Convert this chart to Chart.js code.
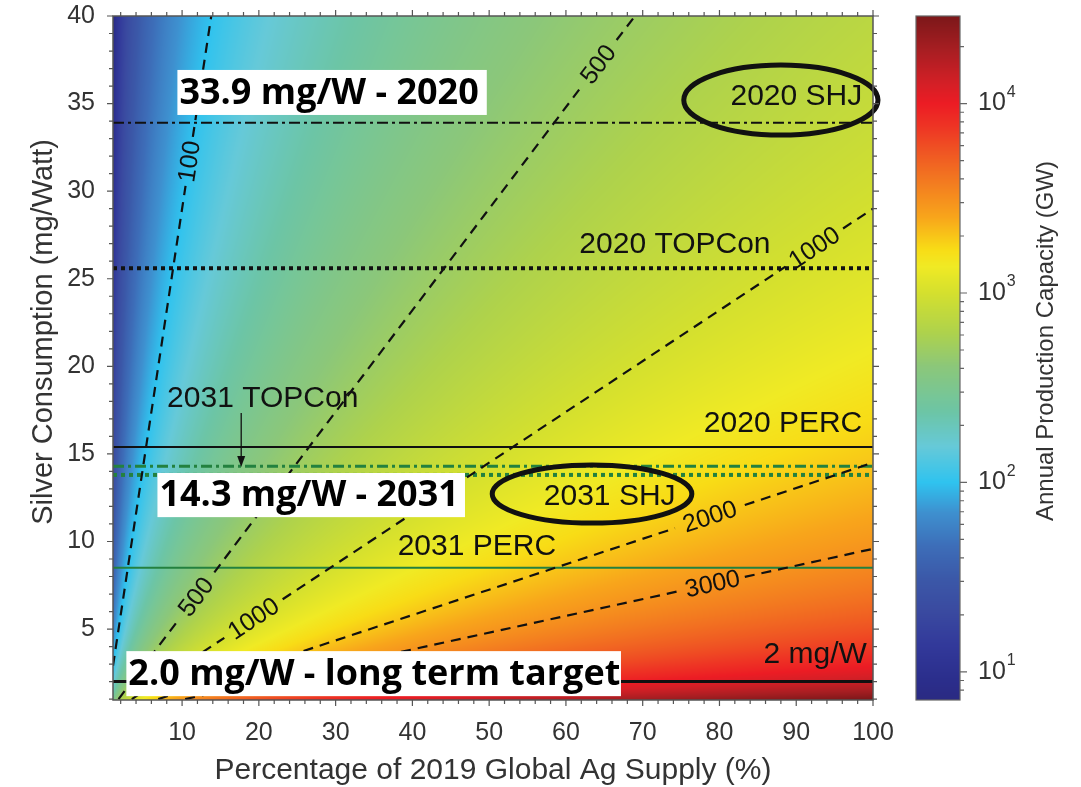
<!DOCTYPE html>
<html>
<head>
<meta charset="utf-8">
<script src="https://cdn.jsdelivr.net/npm/chart.js@4.4.1/dist/chart.umd.min.js"></script>
<style>
  html, body { margin: 0; padding: 0; background: #fff; }
</style>
</head>
<body>
<canvas id="silverChart" width="1081" height="787"></canvas>
<script>
// axis ticks
const pctTicks = [10, 20, 30, 40, 50, 60, 70, 80, 90, 100];
const silverTicks = [5, 10, 15, 20, 25, 30, 35, 40];
const capacityTicks = [10, 100, 1000, 10000];
const capacityRange = [7.1, 29000];

// GW per % of 2019 Ag supply at 1 mg/W
const contourK = 289;

// technologies and their silver use (mg/W)
const techNames = ['2020 SHJ', '2020 TOPCon', '2020 PERC', '2031 TOPCon', '2031 SHJ', '2031 PERC', '2 mg/W'];
const techSilver = [33.9, 25.6, 15.4, 14.3, 13.8, 8.5, 2.0];

// contour lines (GW), each as pieces of [pct, mg/W] broken where the label sits
const contourLevels = [100, 500, 1000, 2000, 3000];
const contourPieces = [
    [[[1, 2.9], [10.45, 30.3]], [[11.4, 33.1], [13.8, 40]]],
    [[[1.72, 1], [9.4, 5.45]], [[14.2, 8.24], [61.8, 35.84]], [[66.6, 38.63], [69, 40]]],
    [[[3.45, 1], [15.5, 4.5]], [[23.1, 6.7], [88.6, 25.69]], [[96.1, 27.87], [100, 29]]],
    [[[6.9, 1], [74.2, 10.76]], [[83.3, 12.08], [100, 14.5]]],
    [[[10.4, 1], [74.9, 7.18]], [[83.3, 7.98], [100, 9.58]]]
];

// ---- styling / annotation placement ----
const techStyles = [
    { color: '#111', width: 2, dash: [11, 4, 3, 4] },
    { color: '#111', width: 4, dash: [4, 4] },
    { color: '#111', width: 2, dash: [] },
    { color: '#23813f', width: 3, dash: [11, 4, 3, 4] },
    { color: '#23813f', width: 4, dash: [4, 4] },
    { color: '#23813f', width: 2, dash: [] },
    { color: '#111', width: 3, dash: [] }
];
const techLabels = [
    { text: '2020 SHJ', x: 98.6, y: 35.38, align: 'right' },
    { text: '2020 TOPCon', x: 74.2, y: 26.92, align: 'center' },
    { text: '2020 PERC', x: 98.6, y: 16.7, align: 'right' },
    { text: '2031 TOPCon', x: 20.5, y: 18.13, align: 'center' },
    { text: '2031 SHJ', x: 65.7, y: 12.54, align: 'center' },
    { text: '2031 PERC', x: 48.4, y: 9.68, align: 'center' },
    { text: '2 mg/W', x: 99.2, y: 3.52, align: 'right' }
];
const contourLabels = [
    { level: 0, x: 10.93, y: 31.7 },
    { level: 1, x: 64.2, y: 37.24 },
    { level: 1, x: 11.8, y: 6.84 },
    { level: 2, x: 92.35, y: 26.78 },
    { level: 2, x: 19.3, y: 5.6 },
    { level: 3, x: 78.75, y: 11.42 },
    { level: 4, x: 79.1, y: 7.58 }
];
const ellipses = [
    { x: 88.0, y: 35.2, rx: 12.65, ry: 2.0 },
    { x: 63.4, y: 12.71, rx: 13.0, ry: 1.66 }
];
const callouts = [
    { text: '33.9 mg/W - 2020', box: [9.39, 36.92, 49.69, 34.35] },
    { text: '14.3 mg/W - 2031', box: [6.79, 13.91, 46.85, 11.39] },
    { text: '2.0 mg/W - long term target', box: [2.74, 3.74, 67.17, 1.17] }
];

const cmapStops = [
    [0.85, '#2a2a82'], [0.96, '#2b2e8c'], [1.14, '#32399a'], [1.32, '#3a4aa0'],
    [1.49, '#3b58a8'], [1.66, '#3d6db8'], [1.84, '#3e90cf'], [2.0, '#2fc3ef'],
    [2.19, '#66c9d8'], [2.37, '#6cc5a6'], [2.61, '#8bc77a'], [2.79, '#aed24c'],
    [3.0, '#d4e02e'], [3.14, '#f0ea24'], [3.23, '#f8dc16'], [3.4, '#f8a51b'],
    [3.58, '#f37c20'], [3.75, '#ef5423'], [3.88, '#ee3424'], [4.0, '#ec1c24'],
    [4.1, '#d51f26'], [4.28, '#a81e22'], [4.47, '#7a1719']
];

const TXT = '#333';
const SANS = "'Liberation Sans', Arial, sans-serif";

function hexRgb(h) {
    return [parseInt(h.substr(1, 2), 16), parseInt(h.substr(3, 2), 16), parseInt(h.substr(5, 2), 16)];
}
const stopRgb = cmapStops.map(s => [s[0], hexRgb(s[1])]);
function cmap(lv) {
    if (lv <= stopRgb[0][0]) return stopRgb[0][1];
    for (let i = 1; i < stopRgb.length; i++) {
        if (lv <= stopRgb[i][0]) {
            const a = stopRgb[i - 1], b = stopRgb[i];
            const t = (lv - a[0]) / (b[0] - a[0]);
            return [0, 1, 2].map(k => a[1][k] + (b[1][k] - a[1][k]) * t);
        }
    }
    return stopRgb[stopRgb.length - 1][1];
}

// colour field behind the lines
const heatmap = {
    id: 'heatmap',
    beforeDatasetsDraw(chart) {
        const { ctx, chartArea: a, scales: { x, y } } = chart;
        const w = Math.round(a.right - a.left), h = Math.round(a.bottom - a.top);
        const off = document.createElement('canvas');
        off.width = w; off.height = h;
        const octx = off.getContext('2d');
        const img = octx.createImageData(w, h);
        for (let j = 0; j < h; j++) {
            const s = y.getValueForPixel(a.top + j + 0.5);
            for (let i = 0; i < w; i++) {
                const p = x.getValueForPixel(a.left + i + 0.5);
                const c = cmap(Math.log10(contourK * p / s));
                const o = (j * w + i) * 4;
                img.data[o] = c[0]; img.data[o + 1] = c[1]; img.data[o + 2] = c[2]; img.data[o + 3] = 255;
            }
        }
        octx.putImageData(img, 0, 0);
        ctx.drawImage(off, a.left, a.top);
    }
};

// labels, ellipses, callout boxes, frame and colour bar
const overlay = {
    id: 'overlay',
    afterDatasetsDraw(chart) {
        const { ctx, chartArea: a, scales: { x, y, cb } } = chart;
        ctx.save();

        // contour labels
        ctx.font = '25px ' + SANS;
        ctx.fillStyle = '#111';
        ctx.textAlign = 'center';
        ctx.textBaseline = 'middle';
        contourLabels.forEach(l => {
            const pcs = contourPieces[l.level];
            const p0 = pcs[0][0], p1 = pcs[pcs.length - 1][1];
            const ang = Math.atan2(y.getPixelForValue(p1[1]) - y.getPixelForValue(p0[1]),
                                   x.getPixelForValue(p1[0]) - x.getPixelForValue(p0[0]));
            ctx.save();
            ctx.translate(x.getPixelForValue(l.x), y.getPixelForValue(l.y));
            ctx.rotate(ang);
            ctx.fillText(String(contourLevels[l.level]), 0, 1);
            ctx.restore();
        });

        // technology labels
        ctx.font = '30px ' + SANS;
        techLabels.forEach(l => {
            ctx.textAlign = l.align;
            ctx.fillText(l.text, x.getPixelForValue(l.x), y.getPixelForValue(l.y));
        });

        // arrow to the 2031 TOPCon line
        const ax = x.getPixelForValue(17.7), ay0 = y.getPixelForValue(17.33), ay1 = y.getPixelForValue(14.25);
        ctx.strokeStyle = '#111';
        ctx.lineWidth = 1.3;
        ctx.beginPath(); ctx.moveTo(ax, ay0); ctx.lineTo(ax, ay1 - 8); ctx.stroke();
        ctx.beginPath(); ctx.moveTo(ax, ay1); ctx.lineTo(ax - 4, ay1 - 11); ctx.lineTo(ax + 4, ay1 - 11); ctx.closePath(); ctx.fill();

        // ellipses
        ctx.lineWidth = 5;
        ellipses.forEach(e => {
            const cx = x.getPixelForValue(e.x), cy = y.getPixelForValue(e.y);
            const rx = x.getPixelForValue(e.x + e.rx) - cx, ry = cy - y.getPixelForValue(e.y + e.ry);
            ctx.beginPath(); ctx.ellipse(cx, cy, rx, ry, 0, 0, Math.PI * 2); ctx.stroke();
        });

        // white callout boxes
        ctx.font = "bold 36px 'Open Sans', 'Noto Sans', sans-serif";
        ctx.textAlign = 'left';
        callouts.forEach(c => {
            const l = x.getPixelForValue(c.box[0]), t = y.getPixelForValue(c.box[1]);
            const r = x.getPixelForValue(c.box[2]), b = y.getPixelForValue(c.box[3]);
            ctx.fillStyle = '#fff';
            ctx.fillRect(l, t, r - l, b - t);
            ctx.fillStyle = '#000';
            ctx.fillText(c.text, l + 2, (t + b) / 2 + 1);
        });

        // frame with outward ticks on all sides
        ctx.strokeStyle = '#555';
        ctx.lineWidth = 1.5;
        ctx.strokeRect(a.left, a.top, a.right - a.left, a.bottom - a.top);
        ctx.lineWidth = 1.2;
        ctx.beginPath();
        for (let v = 2; v <= 100; v += 2) {
            const p = x.getPixelForValue(v), len = v % 10 === 0 ? 6 : 4;
            ctx.moveTo(p, a.bottom); ctx.lineTo(p, a.bottom + len);
            ctx.moveTo(p, a.top); ctx.lineTo(p, a.top - len);
        }
        for (let v = 1; v <= 40; v++) {
            const p = y.getPixelForValue(v), len = v % 5 === 0 ? 6 : 4;
            ctx.moveTo(a.left, p); ctx.lineTo(a.left - len, p);
            ctx.moveTo(a.right, p); ctx.lineTo(a.right + len, p);
        }
        ctx.stroke();

        // y title
        ctx.fillStyle = TXT;
        ctx.font = '29px ' + SANS;
        ctx.textAlign = 'center';
        ctx.textBaseline = 'middle';
        ctx.save();
        ctx.translate(44, 332);
        ctx.rotate(-Math.PI / 2);
        ctx.fillText('Silver Consumption (mg/Watt)', 0, 0);
        ctx.restore();

        // colour bar
        const bl = 916, br = 960;
        const bt = cb.getPixelForValue(capacityRange[1]), bb = cb.getPixelForValue(capacityRange[0]);
        for (let p = Math.floor(bt); p < bb; p++) {
            const c = cmap(Math.log10(cb.getValueForPixel(p + 0.5)));
            ctx.fillStyle = 'rgb(' + c.map(Math.round).join(',') + ')';
            ctx.fillRect(bl, p, br - bl, 1);
        }
        ctx.strokeStyle = '#666';
        ctx.lineWidth = 1.2;
        ctx.strokeRect(bl, bt, br - bl, bb - bt);
        ctx.beginPath();
        for (let d = 1; d <= 10000; d *= 10) {
            for (let m = 1; m <= 9; m++) {
                const v = d * m;
                if (v < capacityRange[0] || v > capacityRange[1]) continue;
                const p = cb.getPixelForValue(v);
                ctx.moveTo(br, p); ctx.lineTo(br + (m === 1 ? 7 : 4), p);
            }
        }
        ctx.stroke();
        ctx.fillStyle = TXT;
        ctx.textAlign = 'left';
        capacityTicks.forEach(v => {
            const p = cb.getPixelForValue(v);
            ctx.font = '25px ' + SANS;
            ctx.textBaseline = 'middle';
            ctx.fillText('10', 978, p);
            const w = ctx.measureText('10').width;
            ctx.font = '16px ' + SANS;
            ctx.fillText(String(Math.round(Math.log10(v))), 978 + w + 1, p - 11);
        });
        ctx.font = '24px ' + SANS;
        ctx.textAlign = 'center';
        ctx.save();
        ctx.translate(1046, 341);
        ctx.rotate(-Math.PI / 2);
        ctx.fillText('Annual Production Capacity (GW)', 0, 0);
        ctx.restore();

        ctx.restore();
    }
};

const datasets = [];
contourPieces.forEach((pieces, i) => {
    pieces.forEach(pc => {
        datasets.push({
            label: contourLevels[i] + ' GW',
            data: pc.map(p => ({ x: p[0], y: p[1] })),
            borderColor: '#111',
            borderWidth: 2.2,
            borderDash: [10, 7],
            xAxisID: 'x', yAxisID: 'y'
        });
    });
});
techNames.forEach((name, i) => {
    datasets.push({
        label: name,
        data: [{ x: 1, y: techSilver[i] }, { x: 100, y: techSilver[i] }],
        borderColor: techStyles[i].color,
        borderWidth: techStyles[i].width,
        borderDash: techStyles[i].dash,
        xAxisID: 'x', yAxisID: 'y'
    });
});

const ctx = document.getElementById('silverChart').getContext('2d');
new Chart(ctx, {
    type: 'line',
    data: { datasets: datasets },
    options: {
        responsive: false,
        animation: false,
        layout: { autoPadding: false, padding: { left: 0, right: 208, top: 16, bottom: 0 } },
        elements: { point: { radius: 0 }, line: { tension: 0 } },
        plugins: { legend: { display: false }, tooltip: { enabled: false } },
        scales: {
            x: {
                type: 'linear', min: 1, max: 100,
                grid: { display: false, drawTicks: false },
                border: { display: false },
                afterBuildTicks: s => { s.ticks = pctTicks.map(v => ({ value: v })); },
                afterFit: s => { s.height = 87; s.paddingLeft = 0; s.paddingRight = 0; },
                ticks: { padding: 18, color: TXT, font: { family: SANS, size: 25 }, maxRotation: 0, autoSkip: false },
                title: {
                    display: true, text: 'Percentage of 2019 Global Ag Supply (%)', color: TXT,
                    font: { family: SANS, size: 30, lineHeight: 1.1 }, padding: { top: 0, bottom: 0 }
                }
            },
            y: {
                type: 'linear', min: 0.95, max: 40,
                grid: { display: false, drawTicks: false },
                border: { display: false },
                afterBuildTicks: s => { s.ticks = silverTicks.map(v => ({ value: v })); },
                afterFit: s => { s.width = 113; s.paddingTop = 0; s.paddingBottom = 0; },
                ticks: { padding: 18, color: TXT, font: { family: SANS, size: 25 }, autoSkip: false }
            },
            cb: {
                type: 'logarithmic', position: 'right', display: false,
                min: capacityRange[0], max: capacityRange[1]
            }
        }
    },
    plugins: [heatmap, overlay]
});
</script>
</body>
</html>
